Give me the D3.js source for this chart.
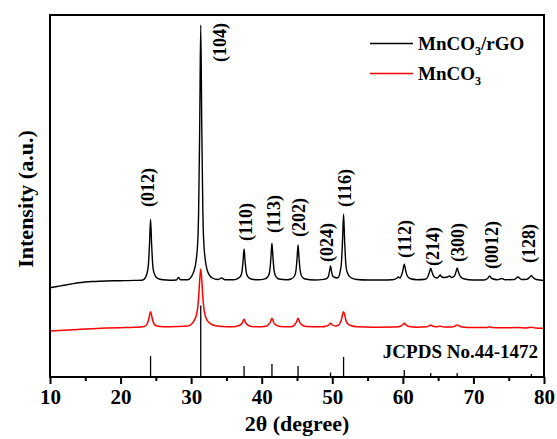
<!DOCTYPE html>
<html>
<head>
<meta charset="utf-8">
<script src="https://cdn.jsdelivr.net/npm/d3@7"></script>
<style>
  body { margin: 0; background: #fff; }
  text { font-family: "Liberation Serif", "Times New Roman", serif; font-weight: bold; fill: #000; }
</style>
</head>
<body>
<svg id="chart" width="557" height="439"></svg>
<script>
// ---- data (2theta in degree, intensity in a.u.) ----
var rgoPattern = [
  [10, 89.3], [11, 90.5], [12, 91.8], [13, 93], [14, 94.2], [15, 95], [16, 95.5], [17, 95.8],
  [18, 96], [19, 96.2], [20, 96.3], [21, 96.4], [22, 96.6], [23, 96.8], [23.25, 97.3],
  [23.75, 103.8], [23.95, 112.9], [24.1, 132.7], [24.25, 157.7], [24.4, 132.7], [24.55, 112.9],
  [24.75, 103.8], [25.25, 98.6], [26, 97.2], [27, 96.8], [27.9, 97], [28.2, 99.5], [28.5, 97.2],
  [29.5, 97.3], [30.36, 105.1], [30.86, 126.8], [31.06, 164.9], [31.21, 247.7], [31.36, 352],
  [31.51, 247.7], [31.66, 164.9], [31.86, 126.8], [32.36, 105.1], [33, 99], [33.8, 97.5],
  [34.3, 99], [34.8, 97.3], [36, 97.2], [36.5, 98.2],
  [37, 100.6], [37.2, 105.2], [37.35, 115.3], [37.5, 128], [37.65, 115.3], [37.8, 105.2],
  [38, 100.6], [38.5, 98], [39.5, 97.2], [40.45, 98.1],
  [40.95, 101.2], [41.15, 106.7], [41.3, 118.7], [41.45, 133.7], [41.6, 118.7], [41.75, 106.7],
  [41.95, 101.2], [42.45, 98], [43.5, 97.2], [44.15, 98],
  [44.65, 101], [44.85, 106.3], [45, 117.7], [45.15, 132], [45.3, 117.7], [45.45, 106.3],
  [45.65, 101], [46.15, 98], [47.5, 97], [48.75, 97.6],
  [49.25, 98.6], [49.45, 100.7], [49.6, 105.3], [49.75, 111], [49.9, 105.3], [50.05, 101],
  [50.4, 99.5], [50.7, 99], [51.0, 101.5],
  [51.1, 105], [51.3, 114.8], [51.45, 136], [51.6, 162.7], [51.75, 136], [51.9, 114.8],
  [52.1, 105], [52.6, 99.5], [53.5, 97.5], [55, 97], [57, 97], [58.5, 97.3], [59.1, 98.5],
  [59.35, 100], [59.6, 99],
  [59.8, 101.5], [60.0, 106.5], [60.2, 112.7], [60.4, 106.5], [60.6, 101.5], [61, 98.5],
  [62, 97.3], [63.2, 97.8], [63.55, 100.5], [63.75, 104.5], [63.95, 108.7], [64.15, 104.5],
  [64.4, 100.5], [64.8, 99], [65.1, 100.5], [65.3, 102], [65.5, 100], [65.9, 99.5], [66.3, 100],
  [66.6, 101], [66.9, 99.5], [67.3, 101], [67.5, 104.5], [67.7, 109], [67.9, 104.5],
  [68.15, 100.5], [68.6, 98.3], [70, 97], [71.5, 97], [72, 98.5], [72.3, 101], [72.6, 98.5],
  [73.4, 97.3], [74, 98.5], [74.5, 97.3], [75.8, 97.5], [76.3, 100], [76.8, 97.5], [77.6, 97.8],
  [77.95, 99.5], [78.2, 101.3], [78.45, 99.5], [78.9, 97.5], [80, 96.5]
];

var mnco3Pattern = [
  [10, 46], [12, 46.8], [14, 47.6], [16, 48.3], [18, 48.9], [20, 49.3], [22, 49.7], [23.35, 50.5],
  [23.75, 53], [23.95, 56.7], [24.1, 61.5], [24.25, 65.3], [24.4, 61.5], [24.55, 56.7],
  [24.75, 53], [25.15, 51], [26, 50.3], [28, 50.5], [29.5, 51],
  [30.46, 56.7], [30.86, 65.8], [31.06, 79.5], [31.21, 96.6], [31.36, 108], [31.51, 96.6],
  [31.66, 79.5], [31.86, 65.8], [32.26, 56.7], [33, 52.3], [34, 50.8], [36, 50.3], [36.7, 51.3],
  [37.0, 52.2], [37.25, 54], [37.5, 57.7], [37.75, 54], [38.0, 52.2], [38.6, 50.6], [40, 50.2],
  [40.75, 51], [40.95, 52.4], [41.2, 54.5], [41.45, 58.7], [41.7, 54.5], [41.95, 52.4],
  [42.6, 50.6], [44, 50.2], [44.5, 51], [44.65, 52.4], [44.9, 54.5], [45.15, 58.7], [45.4, 54.5],
  [45.65, 52.4], [46.3, 50.6], [48.5, 50.2], [49.2, 51], [49.5, 52], [49.75, 53.7], [50, 52],
  [50.4, 51], [50.9, 52], [51.1, 54], [51.3, 57.5], [51.45, 62.5], [51.6, 65.3], [51.75, 62.5],
  [51.9, 57.5], [52.1, 54], [52.6, 51.5], [53.5, 50.2], [56, 49.8], [59, 50], [59.7, 51],
  [59.95, 52], [60.2, 53.7], [60.45, 52], [60.7, 50.8], [62, 49.8], [63.4, 50.2], [63.7, 51],
  [63.95, 52], [64.2, 51], [64.6, 50.3], [65.3, 50.8], [65.8, 50], [66.5, 49.9], [67.3, 50.6],
  [67.5, 51.4], [67.7, 52], [67.95, 51.3], [68.4, 50], [70, 49.4], [72, 49.6], [72.3, 50.2],
  [72.6, 49.5], [74, 49.2], [76.3, 49.5], [77.5, 49], [78.2, 49.8], [78.8, 49], [80, 48.7]
];

// JCPDS No.44-1472 reference lines
var jcpdsPos = [24.25, 31.36, 37.5, 41.45, 45.15, 49.75, 51.6, 60.2, 63.95, 67.7, 78.2];
var jcpdsInt = [21, 71.5, 11, 13, 11, 4.5, 20, 7, 4, 4, 3];

// Miller index labels: text, 2theta of label centre, intensity where label starts
var hklText = ["(012)", "(104)", "(110)", "(113)", "(202)", "(024)", "(116)", "(112)", "(214)", "(300)", "(0012)", "(128)"];
var hklPos  = [23.8, 34.1, 37.7, 41.7, 45.2, 49.2, 51.7, 60.3, 64.2, 67.7, 72.6, 77.9];
var hklAt   = [170, 315, 136, 144, 140, 115, 170, 119, 111, 115, 108, 114];

var xTicks = [10, 20, 30, 40, 50, 60, 70, 80];
var xMinorTicks = [15, 25, 35, 45, 55, 65, 75];

// ---- layout ----
var svg = d3.select("#chart");
var plotL = 50, plotR = 544, plotT = 15, plotB = 377;

var x = d3.scaleLinear().domain([10, 80]).range([plotL, plotR]);
var y = d3.scaleLinear().domain([0, 362]).range([plotB, plotT]);

var line = d3.line()
    .x(function(d){ return x(d[0]); })
    .y(function(d){ return y(d[1]); })
    .curve(d3.curveMonotoneX);

// reference sticks
svg.append("g").selectAll("line")
    .data(jcpdsPos)
    .enter().append("line")
    .attr("x1", function(d){ return x(d); })
    .attr("x2", function(d){ return x(d); })
    .attr("y1", y(0))
    .attr("y2", function(d, i){ return y(jcpdsInt[i]); })
    .attr("stroke", "#000")
    .attr("stroke-width", 1.3);

// patterns
svg.append("path").datum(mnco3Pattern)
    .attr("d", line).attr("fill", "none")
    .attr("stroke", "#f00").attr("stroke-width", 1.5);

svg.append("path").datum(rgoPattern)
    .attr("d", line).attr("fill", "none")
    .attr("stroke", "#000").attr("stroke-width", 1.4);

// x axis (ticks pointing out)
var xAxis = svg.append("g")
    .attr("transform", "translate(0," + plotB + ")")
    .call(d3.axisBottom(x).tickValues(xTicks).tickSize(7).tickSizeOuter(0).tickPadding(5));
xAxis.select(".domain").remove();
xAxis.selectAll("line").attr("stroke-width", 2);
xAxis.selectAll("text")
    .style("font-family", "'Liberation Serif', serif")
    .style("font-weight", "bold")
    .style("font-size", "21px");

var xMinor = svg.append("g")
    .attr("transform", "translate(0," + plotB + ")")
    .call(d3.axisBottom(x).tickValues(xMinorTicks).tickSize(4).tickFormat(""));
xMinor.select(".domain").remove();
xMinor.selectAll("line").attr("stroke-width", 2);

// frame
svg.append("rect")
    .attr("x", plotL).attr("y", plotT)
    .attr("width", plotR - plotL).attr("height", plotB - plotT)
    .attr("fill", "none").attr("stroke", "#000").attr("stroke-width", 2);

// peak labels
svg.append("g").selectAll("text")
    .data(hklText)
    .enter().append("text")
    .attr("transform", function(d, i){
        return "translate(" + x(hklPos[i]) + "," + y(hklAt[i]) + ") rotate(-90)";
    })
    .attr("dy", "0.35em")
    .style("font-size", "18px")
    .text(function(d){ return d; });

// legend
var legend = svg.append("g");
var legendItems = [
    {name: "MnCO", sub: "3", rest: "/rGO", color: "#000"},
    {name: "MnCO", sub: "3", rest: "", color: "#f00"}
];
legendItems.forEach(function(item, i){
    var ly = 43.5 + i * 30;
    legend.append("line")
        .attr("x1", 370).attr("x2", 413)
        .attr("y1", ly).attr("y2", ly)
        .attr("stroke", item.color).attr("stroke-width", 1.5);
    var t = legend.append("text")
        .attr("x", 418).attr("y", ly + 6.5)
        .style("font-size", "19px");
    t.append("tspan").text(item.name);
    t.append("tspan").attr("dy", 5).style("font-size", "12px").text(item.sub);
    if (item.rest) t.append("tspan").attr("dy", -5).text(item.rest);
});

svg.append("text")
    .attr("x", 538).attr("y", 358)
    .attr("text-anchor", "end")
    .style("font-size", "19px")
    .text("JCPDS No.44-1472");

// axis titles
svg.append("text")
    .attr("x", 297).attr("y", 431)
    .attr("text-anchor", "middle")
    .style("font-size", "22px")
    .text("2\u03b8 (degree)");

svg.append("text")
    .attr("transform", "translate(33,199) rotate(-90)")
    .attr("text-anchor", "middle")
    .style("font-size", "22px")
    .text("Intensity (a.u.)");
</script>
</body>
</html>
